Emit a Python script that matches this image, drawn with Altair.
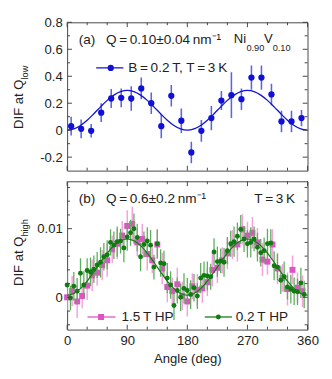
import altair as alt
import pandas as pd

FONT = "Liberation Sans"
TXT = "#222222"
AX = "#444444"
W, H = 248, 153

# ---------------- panel (a) ----------------
angle_a = [6, 21, 36, 51, 66, 81, 96, 111, 126, 141, 156, 171,
           186, 201, 216, 231, 246, 261, 276, 291, 306, 321, 336, 351]
dif_a = [0.030, 0.010, -0.005, 0.130, 0.235, 0.240, 0.235, 0.310, 0.200, 0.030, 0.255, 0.070,
         -0.165, -0.005, 0.090, 0.220, 0.260, 0.230, 0.390, 0.390, 0.265, 0.065, 0.065, 0.090]
err_a = [0.07, 0.07, 0.05, 0.07, 0.07, 0.07, 0.09, 0.08, 0.08, 0.09, 0.08, 0.09,
         0.08, 0.08, 0.09, 0.07, 0.17, 0.08, 0.09, 0.09, 0.08, 0.08, 0.08, 0.06]

fit_angle = [0, 10, 20, 30, 40, 50, 60, 70, 80, 90, 100, 110, 120,
             130, 140, 150, 160, 170, 180, 190, 200, 210, 220, 230, 240,
             250, 260, 270, 280, 290, 300, 310, 320, 330, 340, 350, 360]
fit_a = [0.000, 0.009, 0.035, 0.074, 0.122, 0.173, 0.221, 0.260, 0.286, 0.295, 0.286, 0.260, 0.221,
         0.173, 0.122, 0.074, 0.035, 0.009, 0.000, 0.009, 0.035, 0.074, 0.122, 0.173, 0.221,
         0.260, 0.286, 0.295, 0.286, 0.260, 0.221, 0.173, 0.122, 0.074, 0.035, 0.009, 0.000]

# ---------------- panel (b) ----------------
angle_pink = [0, 7.5, 15, 22.5, 30, 37.5, 45, 52.5, 60, 67.5, 75, 82.5,
              90, 97.5, 105, 112.5, 120, 127.5, 135, 142.5, 150, 157.5, 165, 172.5,
              180, 187.5, 195, 202.5, 210, 217.5, 225, 232.5, 240, 247.5, 255, 262.5,
              270, 277.5, 285, 292.5, 300, 307.5, 315, 322.5, 330, 337.5, 345, 352.5]
dif_pink = [0.0000, 0.0009, -0.0006, 0.0002, 0.0017, 0.0032, 0.0036, 0.0047, 0.0054, 0.0070, 0.0078, 0.0090,
            0.0104, 0.0107, 0.0080, 0.0085, 0.0063, 0.0054, 0.0077, 0.0042, 0.0015, 0.0009, 0.0019, 0.0002,
            -0.0006, 0.0016, 0.0011, 0.0013, 0.0022, 0.0040, 0.0043, 0.0054, 0.0064, 0.0077, 0.0077, 0.0099,
            0.0090, 0.0094, 0.0080, 0.0055, 0.0052, 0.0077, 0.0042, 0.0028, 0.0012, 0.0040, 0.0014, 0.0009]
err_pink = [0.0020, 0.0022, 0.0024, 0.0018, 0.0021, 0.0023, 0.0019, 0.0022, 0.0024, 0.0020, 0.0022, 0.0021,
            0.0023, 0.0025, 0.0020, 0.0022, 0.0024, 0.0019, 0.0021, 0.0023, 0.0022, 0.0020, 0.0024, 0.0021,
            0.0022, 0.0019, 0.0023, 0.0021, 0.0020, 0.0024, 0.0022, 0.0019, 0.0023, 0.0021, 0.0025, 0.0022,
            0.0020, 0.0023, 0.0021, 0.0024, 0.0019, 0.0022, 0.0023, 0.0020, 0.0024, 0.0021, 0.0022, 0.0023]

angle_green = [0, 5, 10, 15, 20, 25, 30, 35, 40, 45, 50, 55,
               60, 65, 70, 75, 80, 85, 90, 95, 100, 105, 110, 115,
               120, 125, 130, 135, 140, 145, 150, 155, 160, 165, 170, 175,
               180, 185, 190, 195, 200, 205, 210, 215, 220, 225, 230, 235,
               240, 245, 250, 255, 260, 265, 270, 275, 280, 285, 290, 295,
               300, 305, 310, 315, 320, 325, 330, 335, 340, 345, 350, 355]
dif_green = [0.0018, -0.0001, 0.0016, 0.0009, 0.0035, 0.0018, 0.0039, 0.0037, 0.0041, 0.0047, 0.0051, 0.0059,
             0.0062, 0.0080, 0.0076, 0.0081, 0.0082, 0.0072, 0.0088, 0.0094, 0.0100, 0.0087, 0.0059, 0.0077,
             0.0082, 0.0076, 0.0044, 0.0078, 0.0050, 0.0049, 0.0028, 0.0018, -0.0012, 0.0010, 0.0000, 0.0013,
             0.0010, 0.0004, 0.0014, 0.0002, 0.0028, 0.0032, 0.0031, 0.0030, 0.0066, 0.0052, 0.0053, 0.0051,
             0.0068, 0.0078, 0.0081, 0.0089, 0.0099, 0.0085, 0.0078, 0.0080, 0.0085, 0.0073, 0.0065, 0.0068,
             0.0078, 0.0079, 0.0046, 0.0044, 0.0025, 0.0030, 0.0015, 0.0012, 0.0009, 0.0008, 0.0021, 0.0004]
err_green = [0.0020, 0.0018, 0.0021, 0.0019, 0.0022, 0.0020, 0.0018, 0.0021, 0.0020, 0.0019, 0.0022, 0.0020,
             0.0021, 0.0019, 0.0020, 0.0022, 0.0018, 0.0021, 0.0020, 0.0019, 0.0022, 0.0020, 0.0021, 0.0019,
             0.0020, 0.0022, 0.0018, 0.0021, 0.0020, 0.0019, 0.0022, 0.0020, 0.0021, 0.0019, 0.0020, 0.0022,
             0.0018, 0.0021, 0.0020, 0.0019, 0.0022, 0.0020, 0.0021, 0.0019, 0.0020, 0.0022, 0.0018, 0.0021,
             0.0020, 0.0019, 0.0022, 0.0020, 0.0021, 0.0019, 0.0020, 0.0022, 0.0018, 0.0021, 0.0020, 0.0019,
             0.0022, 0.0020, 0.0021, 0.0019, 0.0020, 0.0022, 0.0018, 0.0021, 0.0020, 0.0019, 0.0022, 0.0020]

fit_green = [0.00030, 0.00055, 0.00126, 0.00235, 0.00369, 0.00511, 0.00645, 0.00754, 0.00825, 0.00850,
             0.00825, 0.00754, 0.00645, 0.00511, 0.00369, 0.00235, 0.00126, 0.00055, 0.00030,
             0.00055, 0.00126, 0.00235, 0.00369, 0.00511, 0.00645, 0.00754, 0.00825, 0.00850,
             0.00825, 0.00754, 0.00645, 0.00511, 0.00369, 0.00235, 0.00126, 0.00055, 0.00030]

# ---------------- ticks / labels ----------------
x_major = [0, 90, 180, 270, 360]
x_minor = [30, 60, 120, 150, 210, 240, 300, 330]
ya_major = [-0.2, 0, 0.2, 0.4, 0.6, 0.8]
ya_minor = [-0.1, 0.1, 0.3, 0.5, 0.7]
yb_major = [0, 0.01]
yb_minor = [-0.004, -0.002, 0.002, 0.004, 0.006, 0.008, 0.012, 0.014, 0.016]

BLUE, BLUE_ERR = "#1010d8", "#5a64e6"
PINK, PINK_ERR = "#e052c4", "#f3a2dc"
GREEN, GREEN_ERR = "#127a12", "#5aae5a"

xs = alt.Scale(domain=[0, 360], nice=False, zero=False)
ys_a = alt.Scale(domain=[-0.3, 0.8], nice=False, zero=False)
ys_b = alt.Scale(domain=[-0.0047, 0.0169], nice=False, zero=False)

LBL = 13.5
yaxis_a = alt.Axis(values=ya_major, ticks=False, domain=False, grid=False, title=None, orient="left",
                   labelFont=FONT, labelFontSize=LBL, labelColor=TXT, labelPadding=5, labelFlush=False,
                   labelExpr="datum.value == 0 ? '0' : replace(format(datum.value, '.1f'), '\u2212', '-')")
xaxis_a = None
xaxis_b = alt.Axis(values=x_major, ticks=False, domain=False, grid=False, title="Angle (deg)", orient="bottom",
                   labelFont=FONT, labelFontSize=LBL, labelColor=TXT, labelPadding=4, labelFlush=False,
                   titleFont=FONT, titleFontSize=13.5, titleFontWeight="normal", titleColor=TXT,
                   titlePadding=5)
yaxis_b = alt.Axis(values=yb_major, ticks=False, domain=False, grid=False, title=None, orient="left",
                   labelFont=FONT, labelFontSize=LBL, labelColor=TXT, labelPadding=5, labelFlush=False,
                   labelExpr="datum.value == 0 ? '0' : '0.01'")


def one():
    return pd.DataFrame({"k": [0]})


def txt(s, x, y, size=14, align="left", angle=0, baseline="middle"):
    return alt.Chart(one()).mark_text(
        text=s, font=FONT, fontSize=size, color=TXT, align=align,
        baseline=baseline, angle=angle
    ).encode(x=alt.value(x), y=alt.value(y))


def tick_layers(xaxis, yaxis, yvals_major, yvals_minor, ys):
    out = []
    for vals, L in ((x_major, 5), (x_minor, 3)):
        d = pd.DataFrame({"v": vals})
        out.append(alt.Chart(d).mark_rule(color=AX, strokeWidth=1).encode(
            x=alt.X("v:Q", scale=xs, axis=xaxis), y=alt.value(H - L), y2=alt.value(H)))
        out.append(alt.Chart(d).mark_rule(color=AX, strokeWidth=1).encode(
            x=alt.X("v:Q", scale=xs, axis=xaxis), y=alt.value(0), y2=alt.value(L)))
    for vals, L in ((yvals_major, 5), (yvals_minor, 3)):
        d = pd.DataFrame({"v": vals})
        out.append(alt.Chart(d).mark_rule(color=AX, strokeWidth=1).encode(
            y=alt.Y("v:Q", scale=ys, axis=yaxis), x=alt.value(0), x2=alt.value(L)))
        out.append(alt.Chart(d).mark_rule(color=AX, strokeWidth=1).encode(
            y=alt.Y("v:Q", scale=ys, axis=yaxis), x=alt.value(W - L), x2=alt.value(W)))
    return out


# ---------------- panel (a) chart ----------------
df_a = pd.DataFrame({"angle": angle_a, "dif": dif_a, "err": err_a})
df_fa = pd.DataFrame({"angle": fit_angle, "fit": fit_a})

base_a = alt.Chart(df_a).transform_calculate(lo="datum.dif - datum.err", hi="datum.dif + datum.err")
err_layer_a = base_a.mark_rule(color=BLUE_ERR, strokeWidth=1.6, clip=True).encode(
    x=alt.X("angle:Q", scale=xs, axis=xaxis_a),
    y=alt.Y("lo:Q", scale=ys_a, axis=yaxis_a), y2="hi:Q")
fit_layer_a = alt.Chart(df_fa).mark_line(color=BLUE, strokeWidth=1.3, interpolate="monotone").encode(
    x=alt.X("angle:Q", scale=xs, axis=xaxis_a), y=alt.Y("fit:Q", scale=ys_a, axis=yaxis_a))
pts_a = alt.Chart(df_a).mark_point(filled=True, shape="circle", size=42, color=BLUE, opacity=1).encode(
    x=alt.X("angle:Q", scale=xs, axis=xaxis_a), y=alt.Y("dif:Q", scale=ys_a, axis=yaxis_a))

leg_a = [
    alt.Chart(one()).mark_rule(color=BLUE, strokeWidth=1.3).encode(
        x=alt.value(30), x2=alt.value(58), y=alt.value(47)),
    alt.Chart(one()).mark_point(filled=True, shape="circle", size=42, color=BLUE, opacity=1).encode(
        x=alt.value(45), y=alt.value(47)),
    txt("B\u2009=\u20090.2\u2009T, T\u2009=\u20093\u2009K", 63, 47),
]
ann_a = [
    txt("(a)", 12, 18),
    txt("Q\u2009=\u20090.10\u00b10.04\u2009nm\u207b\u00b9", 40, 18),
    txt("Ni", 172, 17, size=13.5),
    txt("0.90", 185, 27, size=9.5),
    txt("V", 203, 17, size=13.5),
    txt("0.10", 212, 27, size=9.5),
    txt("DIF at Q", -50, 59, size=13.5, align="right", angle=270),
    txt("low", -43, 59, size=9.5, align="left", angle=270),
]

panel_a = alt.layer(
    err_layer_a, fit_layer_a, pts_a,
    *tick_layers(xaxis_a, yaxis_a, ya_major, ya_minor, ys_a),
    *leg_a, *ann_a
).properties(width=W, height=H)

# ---------------- panel (b) chart ----------------
df_p = pd.DataFrame({"angle": angle_pink, "dif": dif_pink, "err": err_pink})
df_g = pd.DataFrame({"angle": angle_green, "dif": dif_green, "err": err_green})
df_fg = pd.DataFrame({"angle": fit_angle, "fit": fit_green})

err_p = alt.Chart(df_p).transform_calculate(lo="datum.dif - datum.err", hi="datum.dif + datum.err").mark_rule(
    color=PINK_ERR, strokeWidth=1.5, clip=True).encode(
    x=alt.X("angle:Q", scale=xs, axis=xaxis_b), y=alt.Y("lo:Q", scale=ys_b, axis=yaxis_b), y2="hi:Q")
pts_p = alt.Chart(df_p).mark_point(filled=True, shape="square", size=38, color=PINK, opacity=1).encode(
    x=alt.X("angle:Q", scale=xs, axis=xaxis_b), y=alt.Y("dif:Q", scale=ys_b, axis=yaxis_b))
err_g = alt.Chart(df_g).transform_calculate(lo="datum.dif - datum.err", hi="datum.dif + datum.err").mark_rule(
    color=GREEN_ERR, strokeWidth=1.3, clip=True).encode(
    x=alt.X("angle:Q", scale=xs, axis=xaxis_b), y=alt.Y("lo:Q", scale=ys_b, axis=yaxis_b), y2="hi:Q")
pts_g = alt.Chart(df_g).mark_point(filled=True, shape="circle", size=26, color=GREEN, opacity=1).encode(
    x=alt.X("angle:Q", scale=xs, axis=xaxis_b), y=alt.Y("dif:Q", scale=ys_b, axis=yaxis_b))
fit_g = alt.Chart(df_fg).mark_line(color=GREEN, strokeWidth=1.2, interpolate="monotone").encode(
    x=alt.X("angle:Q", scale=xs, axis=xaxis_b), y=alt.Y("fit:Q", scale=ys_b, axis=yaxis_b))

leg_b = [
    alt.Chart(one()).mark_rule(color=PINK, strokeWidth=1.3).encode(
        x=alt.value(21), x2=alt.value(50), y=alt.value(140)),
    alt.Chart(one()).mark_point(filled=True, shape="square", size=38, color=PINK, opacity=1).encode(
        x=alt.value(35), y=alt.value(140)),
    txt("1.5\u2009T HP", 56, 140),
    alt.Chart(one()).mark_rule(color=GREEN, strokeWidth=1.3).encode(
        x=alt.value(142), x2=alt.value(170), y=alt.value(140)),
    alt.Chart(one()).mark_point(filled=True, shape="circle", size=26, color=GREEN, opacity=1).encode(
        x=alt.value(156), y=alt.value(140)),
    txt("0.2\u2009T HP", 174, 140),
]
ann_b = [
    txt("(b)", 12, 18),
    txt("Q\u2009=\u20090.6\u00b10.2\u2009nm\u207b\u00b9", 40, 18),
    txt("T\u2009=\u20093\u2009K", 193, 18),
    txt("DIF at Q", -50, 57, size=13.5, align="right", angle=270),
    txt("high", -43, 57, size=9.5, align="left", angle=270),
]

panel_b = alt.layer(
    err_p, pts_p, err_g, pts_g, fit_g,
    *tick_layers(xaxis_b, yaxis_b, yb_major, yb_minor, ys_b),
    *leg_b, *ann_b
).properties(width=W, height=H)

chart = alt.vconcat(panel_a, panel_b, spacing=9).properties(
    padding={"left": 3, "top": 1, "right": 5, "bottom": 2}
).configure_view(stroke=AX, strokeWidth=1)

chart.save("out.html", embed_options={"renderer": "svg", "actions": False})
